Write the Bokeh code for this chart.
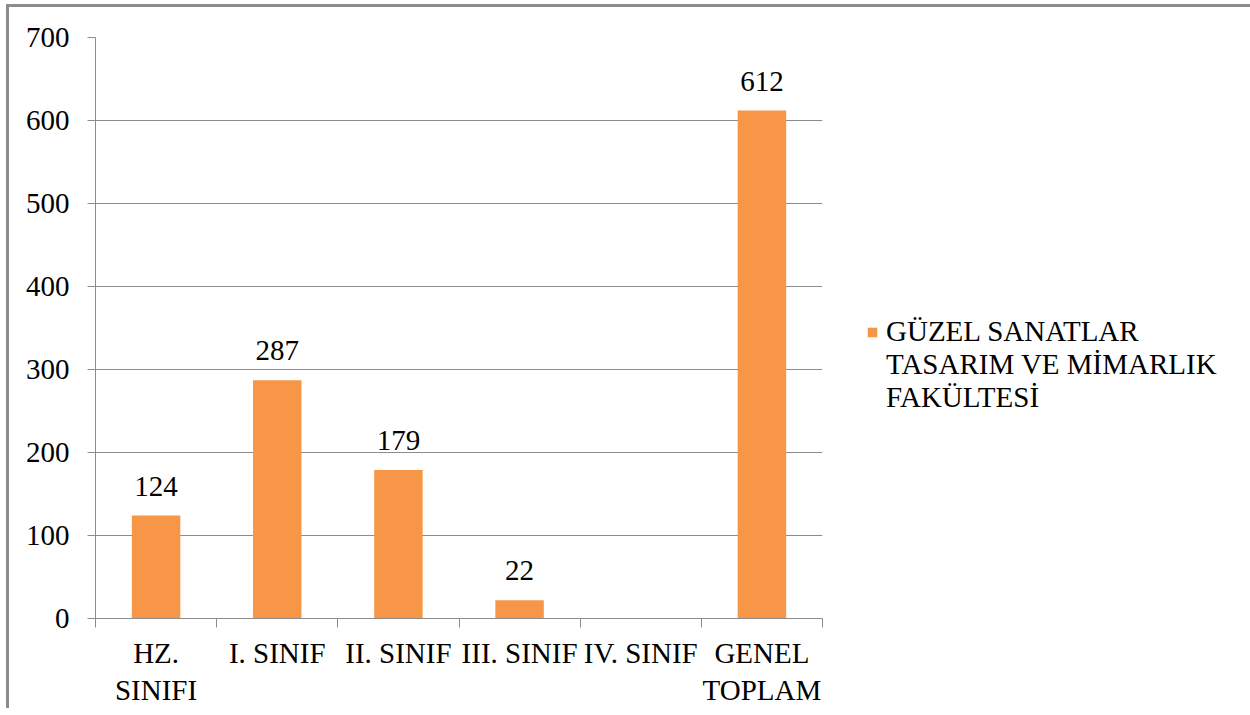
from bokeh.plotting import figure
from bokeh.models import FixedTicker, Range1d, ColumnDataSource, Legend, LegendItem
from bokeh.core.properties import value
from bokeh.embed import file_html
from bokeh.resources import INLINE

categories = ["HZ.\nSINIFI", "I. SINIF", "II. SINIF", "III. SINIF", "IV. SINIF", "GENEL\nTOPLAM"]
values = [124, 287, 179, 22, 0, 612]
y_ticks = [0, 100, 200, 300, 400, 500, 600, 700]
series_name_lines = ["GÜZEL SANATLAR", "TASARIM VE MİMARLIK\nFAKÜLTESİ"]

FONT = "Liberation Serif"
FS = "29px"
BAR = "#F79646"
GRID = "#8c8c8c"

centers = [i + 0.5 for i in range(len(categories))]
bounds = list(range(len(categories) + 1))

p = figure(frame_width=727, frame_height=581, output_backend="svg", toolbar_location=None,
           x_range=Range1d(0, len(categories)), y_range=Range1d(0, 700))
p.min_border_left = 86
p.min_border_top = 30
p.min_border_right = 60
p.min_border_bottom = 88
p.outline_line_color = None
p.background_fill_color = "white"
p.border_fill_color = "white"

src = ColumnDataSource(dict(x=centers, top=values,
                            lab=[str(v) if v else "" for v in values]))
bars = p.vbar(x="x", top="top", width=0.4, source=src, fill_color=BAR, line_color=None)
p.text(x="x", y="top", text="lab", source=src, text_align="center", text_baseline="bottom",
       y_offset=-20, text_font=value(FONT), text_font_size=FS, text_color="#000000")
# invisible renderer used only to carry the continuation lines of the legend label
ghost = p.scatter(x=[], y=[], fill_alpha=0, line_alpha=0)

# y axis
p.yaxis.ticker = FixedTicker(ticks=y_ticks)
p.yaxis.axis_line_color = GRID
p.yaxis.major_tick_line_color = GRID
p.yaxis.major_tick_in = 0
p.yaxis.major_tick_out = 8
p.yaxis.minor_tick_line_color = None
p.yaxis.major_label_text_font = FONT
p.yaxis.major_label_text_font_size = FS
p.yaxis.major_label_text_color = "#000000"
p.yaxis.major_label_standoff = 18
p.ygrid.ticker = FixedTicker(ticks=y_ticks)
p.ygrid.grid_line_color = GRID
p.ygrid.grid_line_width = 1

# x axis
p.xaxis.ticker = FixedTicker(ticks=centers, minor_ticks=bounds)
p.xaxis.major_label_overrides = {c: lab for c, lab in zip(centers, categories)}
p.xaxis.axis_line_color = GRID
p.xaxis.major_tick_line_color = None
p.xaxis.major_tick_out = 0
p.xaxis.major_tick_in = 0
p.xaxis.minor_tick_line_color = GRID
p.xaxis.minor_tick_in = 0
p.xaxis.minor_tick_out = 9
p.xaxis.major_label_text_font = FONT
p.xaxis.major_label_text_font_size = FS
p.xaxis.major_label_text_color = "#000000"
p.xaxis.major_label_text_line_height = 1.17
p.xaxis.major_label_standoff = 9
p.xgrid.grid_line_color = None

legend = Legend(items=[LegendItem(label=series_name_lines[0], renderers=[bars]),
                       LegendItem(label=series_name_lines[1], renderers=[ghost])],
                location=(44, 204))
legend.border_line_color = None
legend.background_fill_alpha = 0
legend.label_text_font = FONT
legend.label_text_font_size = FS
legend.label_text_color = "#000000"
legend.label_text_line_height = 1.17
legend.label_height = 12
legend.glyph_width = 12
legend.glyph_height = 12
legend.label_standoff = 8
legend.spacing = 0
legend.padding = 0
legend.margin = 0
p.add_layout(legend, "right")

p.styles = {"border-left": "3px solid #8c8c8c", "border-top": "3px solid #8c8c8c",
            "margin-left": "6px", "margin-top": "4px"}

open("out.html", "w").write(file_html(p, INLINE))
